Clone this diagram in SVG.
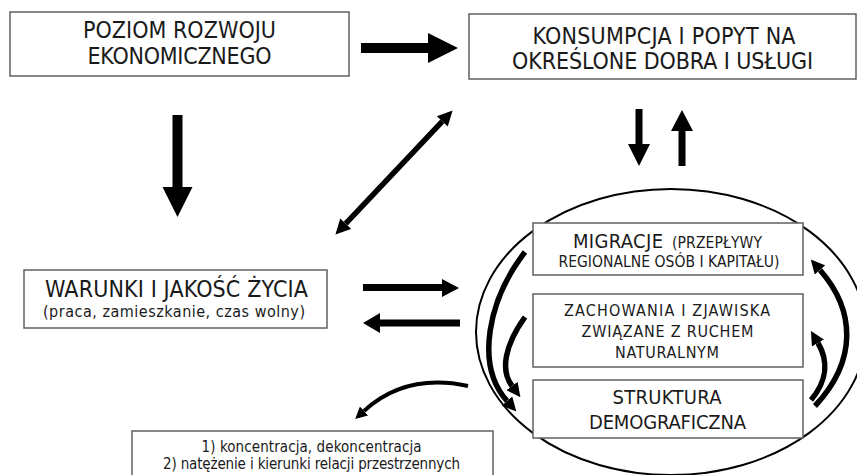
<svg xmlns="http://www.w3.org/2000/svg" width="857" height="475" viewBox="0 0 857 475">
<style>
.box{fill:#fff;stroke:#606060;stroke-width:1.5}
.t{font-family:"DejaVu Sans Condensed","DejaVu Sans",sans-serif;font-stretch:condensed;fill:#1a1a1a;text-anchor:middle}
.big{font-size:23px}
.mid{font-size:20px}
.sm{font-size:16px}
.xs{font-size:15px}
.blk{fill:#000}
.cv{fill:none;stroke:#000;stroke-width:5.5}
.thin{fill:none;stroke:#000;stroke-width:4}
</style>
<defs>
<marker id="hd" viewBox="0 0 10 10" refX="0" refY="5" markerUnits="userSpaceOnUse" markerWidth="17" markerHeight="15" orient="auto-start-reverse"><path d="M0,0 L10,5 L0,10 z"/></marker>
<marker id="hc" viewBox="0 0 10 10" refX="0" refY="5" markerUnits="userSpaceOnUse" markerWidth="14" markerHeight="14" orient="auto"><path d="M0,0 L10,5 L0,10 z"/></marker>
<marker id="hs" viewBox="0 0 10 10" refX="0" refY="5" markerUnits="userSpaceOnUse" markerWidth="12" markerHeight="13" orient="auto"><path d="M0,0 L10,5 L0,10 z"/></marker>
</defs>
<rect width="857" height="475" fill="#fff"/>
<g id="ellipse-group">
<ellipse cx="671" cy="332" rx="195" ry="143" fill="none" stroke="#000" stroke-width="2"/>
</g>
<g id="n-poziom">
<rect class="box" x="10" y="12" width="339" height="64"/>
<text class="t big" x="179.5" y="38" textLength="193">POZIOM ROZWOJU</text>
<text class="t big" x="179.5" y="64" textLength="184">EKONOMICZNEGO</text>
</g>
<g id="n-konsumpcja">
<rect class="box" x="469" y="14" width="387" height="65"/>
<text class="t big" x="664" y="44" textLength="263">KONSUMPCJA I POPYT NA</text>
<text class="t big" x="662.5" y="69" textLength="301">OKREŚLONE DOBRA I USŁUGI</text>
</g>
<g id="n-warunki">
<rect class="box" x="24" y="270" width="303" height="58"/>
<text class="t big" x="176.5" y="297" textLength="263">WARUNKI I JAKOŚĆ ŻYCIA</text>
<text class="t sm" x="174" y="317" textLength="262">(praca,  zamieszkanie,  czas  wolny)</text>
</g>
<g id="n-migracje">
<rect class="box" x="533" y="223" width="270" height="52"/>
<text class="t" style="text-anchor:start"><tspan class="mid" x="573" y="248" textLength="90">MIGRACJE</tspan><tspan style="font-size:15.5px" x="672" y="248" textLength="90">(PRZEPŁYWY</tspan></text>
<text class="t" style="font-size:15.5px" x="669" y="267" textLength="221">REGIONALNE OSÓB I KAPITAŁU)</text>
</g>
<g id="n-zachowania">
<rect class="box" x="533" y="294" width="270" height="73"/>
<text class="t sm" x="667" y="316" textLength="206">ZACHOWANIA  I ZJAWISKA</text>
<text class="t sm" x="667.5" y="337" textLength="172">ZWIĄZANE Z RUCHEM</text>
<text class="t sm" x="667" y="357.5" textLength="104">NATURALNYM</text>
</g>
<g id="n-struktura">
<rect class="box" x="533" y="380" width="270" height="58"/>
<text class="t mid" x="667" y="403.5" textLength="109">STRUKTURA</text>
<text class="t mid" x="667.5" y="428.5" textLength="157">DEMOGRAFICZNA</text>
</g>
<g id="n-koncentracja">
<rect class="box" x="132" y="431" width="361" height="50"/>
<text class="t xs" x="311.5" y="451.5" textLength="220">1) koncentracja,  dekoncentracja</text>
<text class="t xs" x="311.5" y="468.5" textLength="297">2) natężenie i kierunki relacji przestrzennych</text>
</g>
<g id="connectors">
<polygon class="blk" points="361,43 428,43 428,33 458,48 428,63 428,53 361,53"/>
<polygon class="blk" points="172.5,115 182.5,115 182.5,187 192.5,187 177.5,217 162.5,187 172.5,187"/>
<polygon class="blk" points="635.5,109 642.5,109 642.5,144 650,144 639,166 628,144 635.5,144"/>
<polygon class="blk" points="678.5,166 685.5,166 685.5,131 693,131 682,110 671,131 678.5,131"/>
<polygon class="blk" points="363,284 442,284 442,279 459,288 442,297 442,291 363,291"/>
<polygon class="blk" points="460,319.5 380,319.5 380,313 363,323 380,333 380,326.5 460,326.5"/>
<line x1="345.7" y1="223.7" x2="442.3" y2="121.3" stroke="#000" stroke-width="5.5" marker-start="url(#hd)" marker-end="url(#hd)"/>
<path class="cv" d="M525,252 C488,300 475,365 507,401" marker-end="url(#hc)"/>
<path class="cv" d="M525,317 C505,345 500,370 512,386" marker-end="url(#hc)"/>
<path class="cv" d="M815,406 C858,360 855,310 820,270" marker-end="url(#hc)"/>
<path class="cv" d="M811,400 C828,380 828,360 818,343" marker-end="url(#hc)"/>
<path class="thin" d="M468,386 C440,380 400,378 364,411" marker-end="url(#hs)"/>
</g>
</svg>
